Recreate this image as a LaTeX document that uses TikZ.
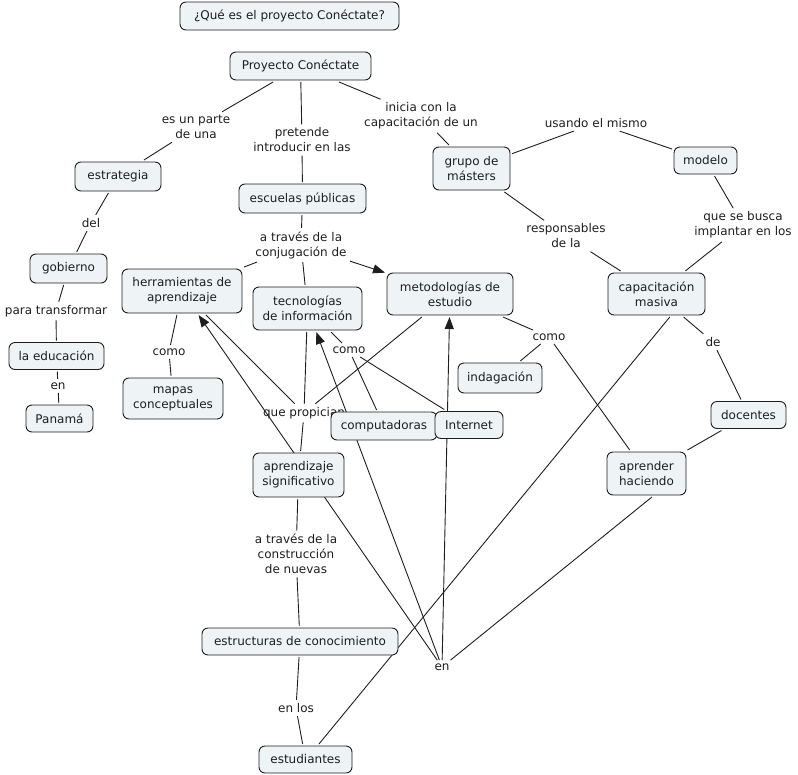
\documentclass[tikz,border=0pt]{standalone}
\usepackage{fontspec}
\setmainfont{DejaVu Sans}
\usetikzlibrary{arrows.meta}
\pgfdeclarelayer{bg}
\pgfsetlayers{bg,main}
\definecolor{cfill}{HTML}{EEF3F6}
\definecolor{ink}{HTML}{1E1E1E}
\begin{document}
\begin{tikzpicture}[x=1pt,y=-1pt,
  every node/.style={font=\fontsize{12}{15}\selectfont, text=ink, align=center},
  cpt/.style={draw=ink, fill=cfill, rounded corners=6pt, line width=0.9pt, inner sep=0pt, outer sep=2pt},
  lnk/.style={inner sep=2.5pt, outer sep=1pt},
  conn/.style={draw=ink, line width=0.9pt},
  arr/.style={conn, -{Triangle[length=12pt,width=9pt]}}]
\useasboundingbox (0,0) rectangle (798,774);
% concepts
\node[cpt, minimum width=219pt, minimum height=28pt] (q) at (289.5,16) {¿Qué es el proyecto Conéctate?};
\node[cpt, minimum width=141pt, minimum height=28pt] (pc) at (300.5,66) {Proyecto Conéctate};
\node[cpt, minimum width=86pt, minimum height=29pt] (estr) at (118,176.5) {estrategia};
\node[cpt, minimum width=127pt, minimum height=29pt] (esc) at (302.5,198.5) {escuelas públicas};
\node[cpt, minimum width=77pt, minimum height=43pt] (grupo) at (471.5,168.5) {grupo de\\másters};
\node[cpt, minimum width=63pt, minimum height=27pt] (modelo) at (705.5,160.5) {modelo};
\node[cpt, minimum width=77pt, minimum height=29pt] (gob) at (68.5,268.5) {gobierno};
\node[cpt, minimum width=120pt, minimum height=44pt] (herr) at (182,291) {herramientas de\\aprendizaje};
\node[cpt, minimum width=109pt, minimum height=43pt] (tec) at (307.5,308.5) {tecnologías\\de información};
\node[cpt, minimum width=126pt, minimum height=42pt] (met) at (450,294) {metodologías de\\estudio};
\node[cpt, minimum width=97pt, minimum height=42pt] (cap) at (656.5,294) {capacitación\\masiva};
\node[cpt, minimum width=95pt, minimum height=27pt] (edu) at (56.5,356) {la educación};
\node[cpt, minimum width=84pt, minimum height=30pt] (ind) at (500,378) {indagación};
\node[cpt, minimum width=100pt, minimum height=41pt] (mapas) at (173,398.5) {mapas\\conceptuales};
\node[cpt, minimum width=67pt, minimum height=27pt] (pan) at (59.5,418.5) {Panamá};
\node[lnk] (prop) at (304,413) {que propician};
\node[cpt, minimum width=106pt, minimum height=28pt] (comp) at (384,426) {computadoras};
\node[cpt, minimum width=68pt, minimum height=27pt] (inet) at (469,425) {Internet};
\node[cpt, minimum width=75pt, minimum height=27pt] (doc) at (748.5,415) {docentes};
\node[cpt, minimum width=91pt, minimum height=44pt] (apsig) at (298.5,475) {aprendizaje\\significativo};
\node[cpt, minimum width=79pt, minimum height=43pt] (aphac) at (646.5,473.5) {aprender\\haciendo};
\node[cpt, minimum width=196pt, minimum height=27pt] (estruc) at (300,641.5) {estructuras de conocimiento};
\node[cpt, minimum width=93pt, minimum height=27pt] (estud) at (305.5,759.5) {estudiantes};
% linking phrases
\node[lnk] (lparte) at (196,127) {es un parte\\de una};
\node[lnk] (lpret) at (302,140) {pretende\\introducir en las};
\node[lnk] (linic) at (421,116) {inicia con la\\capacitación de un};
\node[lnk] (lusan) at (596,123) {usando el mismo};
\node[lnk] (lresp) at (566,236) {responsables\\de la};
\node[lnk] (lbusc) at (743,225) {que se busca\\implantar en los};
\node[lnk] (ldel) at (91,223) {del};
\node[lnk] (lpara) at (56,311) {para transformar};
\node[lnk] (len1) at (58,386) {en};
\node[lnk] (lconj) at (301,245) {a través de la\\conjugación de};
\node[lnk] (lcomo1) at (169,352) {como};
\node[lnk] (lcomo2) at (349,350) {como};
\node[lnk] (lcomo3) at (549,337) {como};
\node[lnk] (lde) at (713,342) {de};
\node[lnk] (lconst) at (296,554) {a través de la\\construcción\\de nuevas};
\node[lnk] (lenlos) at (296,708) {en los};
\node[lnk] (len2) at (442,667) {en};
% connectors
\begin{pgfonlayer}{bg}
\draw[conn] (pc) -- (lparte); \draw[conn] (lparte) -- (estr);
\draw[conn] (pc) -- (lpret); \draw[conn] (lpret) -- (esc);
\draw[conn] (pc) -- (linic); \draw[conn] (linic) -- (grupo);
\draw[conn] (grupo) -- (lusan); \draw[conn] (lusan) -- (modelo);
\draw[conn] (grupo) -- (lresp); \draw[conn] (lresp) -- (cap);
\draw[conn] (modelo) -- (lbusc); \draw[conn] (lbusc) -- (cap);
\draw[conn] (estr) -- (ldel); \draw[conn] (ldel) -- (gob);
\draw[conn] (gob) -- (lpara); \draw[conn] (lpara) -- (edu);
\draw[conn] (edu) -- (len1); \draw[conn] (len1) -- (pan);
\draw[conn] (esc) -- (lconj);
\draw[conn] (lconj) -- (herr); \draw[conn] (lconj) -- (tec); \draw[arr] (lconj) -- (met);
\draw[conn] (herr) -- (lcomo1); \draw[conn] (lcomo1) -- (mapas);
\draw[conn] (tec) -- (lcomo2); \draw[conn] (lcomo2) -- (comp); \draw[conn] (lcomo2) -- (inet);
\draw[conn] (met) -- (lcomo3); \draw[conn] (lcomo3) -- (ind); \draw[conn] (lcomo3) -- (aphac);
\draw[conn] (cap) -- (lde); \draw[conn] (lde) -- (doc);
\draw[conn] (doc) -- (aphac);
\draw[conn] (cap.-60) -- (estud.49);
\draw[conn] (herr) -- (prop); \draw[conn] (tec) -- (prop); \draw[conn] (met) -- (prop);
\draw[conn] (prop) -- (apsig);
\draw[conn] (apsig) -- (lconst); \draw[conn] (lconst) -- (estruc);
\draw[conn] (estruc) -- (lenlos); \draw[conn] (lenlos) -- (estud);
\draw[conn] (aphac.-77) -- (len2);
\draw[arr] (len2) -- (herr);
\draw[arr] (len2) -- (tec);
\draw[arr] (len2) -- (met);
\end{pgfonlayer}
\end{tikzpicture}
\end{document}
